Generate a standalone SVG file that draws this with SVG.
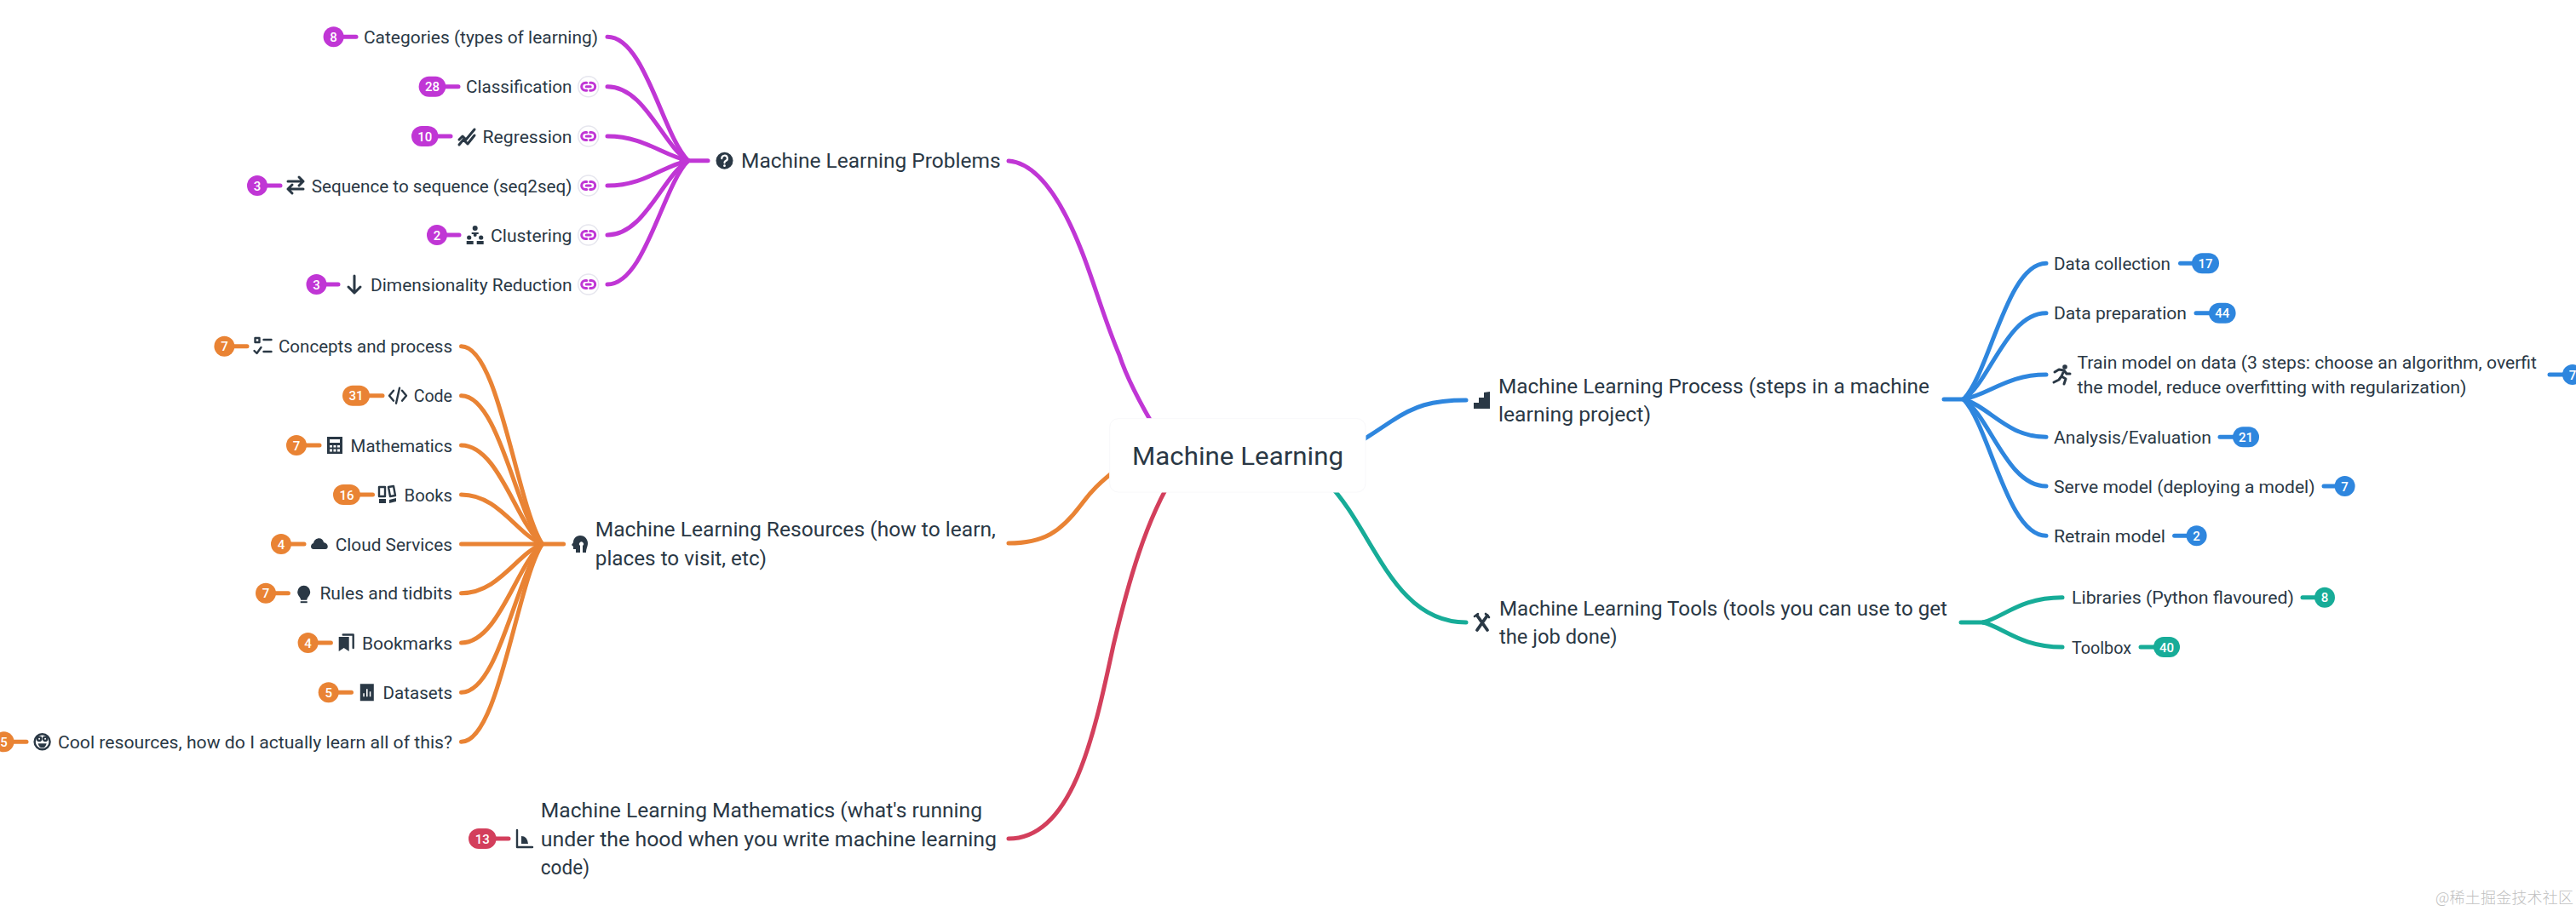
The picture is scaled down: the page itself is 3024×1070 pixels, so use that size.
<svg xmlns="http://www.w3.org/2000/svg" width="3024" height="1070" viewBox="0 0 3024 1070">
<style>
text{font-family:"Roboto","Liberation Sans",sans-serif;fill:#2a3845}
.t{font-size:21px}
.p{font-size:24px}
.r{font-size:30px}
.n{font-size:15px;fill:#fff;font-weight:500;text-anchor:middle}
.wm{font-family:"Noto Sans CJK SC",sans-serif;font-size:18px;fill:#bfbfbf;font-weight:300}
.c path{fill:none;stroke-linecap:round;stroke-width:5}
.pu path{stroke:#c036d5}.or path{stroke:#e98334}.bl path{stroke:#2e86de}.te path{stroke:#17ac98}.re path{stroke:#d33f5c}
.bpu{fill:#c036d5}.bor{fill:#e98334}.bbl{fill:#2e86de}.bte{fill:#17ac98}.bre{fill:#d33f5c}
.ic{fill:#2a3845;stroke:none}
.il{fill:none;stroke:#2a3845;stroke-width:2.4;stroke-linecap:round;stroke-linejoin:round}
.i3{stroke-width:3}
.lk{fill:#fff;stroke:#e6e6ee;stroke-width:1.5}
.lc{fill:none;stroke:#c036d5;stroke-width:3;stroke-linecap:round}
</style>
<defs>
<g id="link"><circle class="lk" r="12"/><path class="lc" d="M-2,-4.5 H-3.5 A4.5,4.5 0 0 0 -3.5,4.5 H-2 M2,-4.5 H3.5 A4.5,4.5 0 0 1 3.5,4.5 H2 M-2.5,0 H2.5"/></g>
<g id="i-q"><circle class="ic" r="10"/><path d="M-3.2,-2.6 A3.3,3.3 0 1 1 1.2,0.4 Q0,1 0,2.6" fill="none" stroke="#fff" stroke-width="2.2" stroke-linecap="round"/><circle r="1.4" cy="6" fill="#fff"/></g>
<g id="i-reg"><path class="il i3" d="M-9,4 L-5,0 L-1,4 L9,-8 M-9,10 L-4,4 L1,9 L9,-1"/></g>
<g id="i-seq"><path class="il i3" d="M-9,-4 H9 M4,-9 L9,-4 L4,1 M9,5 H-9 M-4,0 L-9,5 L-4,10"/></g>
<g id="i-clu"><circle class="ic" cy="-8" r="3"/><circle class="ic" cx="-7" cy="3" r="2.6"/><circle class="ic" cx="7" cy="3" r="2.6"/><circle class="ic" cy="0" r="2"/><rect class="ic" x="-10" y="7" width="8" height="4"/><rect class="ic" x="2" y="7" width="8" height="4"/><rect class="ic" x="-4" y="-3" width="8" height="2"/></g>
<g id="i-down"><path class="il i3" d="M0,-10 V10 M-7,3 L0,10 L7,3"/></g>
<g id="i-chk"><path class="il" d="M-9,-9 h5 v5 h-5 z M-10,6 L-7,9 L-2,2 M1,-7 H10 M1,7 H10"/></g>
<g id="i-code"><path class="il" d="M-5,-6 L-10,0 L-5,6 M5,-6 L10,0 L5,6 M2,-9 L-2,9"/></g>
<g id="i-calc"><path class="ic" fill-rule="evenodd" d="M-9,-10 H9 V10 H-9 Z M-6,-7 V-3 H6 V-7 Z M-6,0 V2.5 H-3 V0 Z M-1.5,0 V2.5 H1.5 V0 Z M3,0 V2.5 H6 V0 Z M-6,4.5 V7.5 H-3 V4.5 Z M-1.5,4.5 V7.5 H1.5 V4.5 Z M3,4.5 V7.5 H6 V4.5 Z"/></g>
<g id="i-book"><path class="il" d="M-10,-9 H-3 V2 H-10 Z M1,-9 L7,-10 L9,1 L3,2 Z"/><rect class="ic" x="-10" y="5" width="8" height="5"/><path class="ic" d="M2,6 L10,4 L10,8 L2,10 Z"/></g>
<g id="i-cloud"><path class="ic" d="M-7,7 C-11,7 -11,1 -7,0 C-6,-7 4,-8 5,-1 C11,0 11,7 7,7 Z"/></g>
<g id="i-bulb"><path class="ic" d="M0,-9 A7.5,7.5 0 0 1 7.5,-1.5 C7.5,3 4,4 3.5,8 H-3.5 C-4,4 -7.5,3 -7.5,-1.5 A7.5,7.5 0 0 1 0,-9 Z"/><rect class="ic" x="-4" y="9.5" width="8" height="2"/></g>
<g id="i-bm"><path class="ic" d="M-9,-7 H3 V10 L-3,6 L-9,10 Z"/><path class="il" d="M-4,-9.5 H8 V6"/></g>
<g id="i-data"><path class="ic" fill-rule="evenodd" d="M-8,-10 H8 V10 H-8 Z M-4.5,1 V5 H-3 V1 Z M-.8,-4 V5 H.8 V-4 Z M3,-1 V5 H4.5 V-1 Z"/></g>
<g id="i-face"><circle class="il" r="9"/><circle class="il" cx="-3.5" cy="-3.5" r="2.2"/><circle class="il" cx="3.5" cy="-3.5" r="2.2"/><path class="ic" d="M-5,2 H5 Q4,7 0,7 Q-4,7 -5,2 Z"/></g>
<g id="i-ang"><path class="il" d="M-8,-10 V10 H10"/><path class="ic" d="M-3,-3 Q4,-3 5,6 H-3 Z"/></g>
<g id="i-steps"><path class="ic" d="M-10,10 V3 H-4 V-3 H2 V-9 L9,-10 V10 Z"/></g>
<g id="i-head"><path class="ic" fill-rule="evenodd" d="M0,-10 C6,-10 9,-5 9,-1 C9,3 7,5 7,10 H3 V2 A2.5,2.5 0 1 0 0,2 V10 H-5 V6 H-8 V3 L-10,1 L-8,-2 C-8,-6 -5,-10 0,-10 Z"/></g>
<g id="i-tools"><path class="il" style="stroke-width:3.8" d="M-6,-8 L6,9 M6,-8 L-6,9"/><path class="il" style="stroke-width:2.6" d="M-9,-7 L-5,-10 M4,-10 L8,-6"/></g>
<g id="i-run"><circle class="ic" cx="4" cy="-9" r="2.8"/><path class="il i3" d="M-8,-3 L-3,-6 L3,-5 L0,2 L5,5 L3,11 M0,2 L-3,6 L-9,9 M3,-5 L6,-1 L10,-1"/></g>
</defs>

<g id="connectors" class="c">
<g class="pu">
<path d="M1184,189 C1222,192 1250,245 1269,293 C1284,330 1296,375 1314,417 C1322,442 1336,470 1360,510"/>
<path d="M713,43.3 C757,43.3 778,159.6 808,188.7"/>
<path d="M713,101.7 C757,101.7 778,171.3 808,188.7"/>
<path d="M713,160 C757,160 778,183 808,188.7"/>
<path d="M713,218 C757,218 778,194.6 808,188.7"/>
<path d="M713,276 C757,276 778,206 808,188.7"/>
<path d="M713,334 C757,334 778,217.8 808,188.7"/>
<path d="M800,188.7 H831"/>
<path d="M392,43.3 H418"/><path d="M510,101.7 H538"/><path d="M500,160 H529"/><path d="M302,218 H329"/><path d="M513,276 H539"/><path d="M372,334 H397"/>
</g>
<g class="or">
<path d="M1184,638 C1225,638 1245,625 1269,593 C1280,578 1290,567 1315,548"/>
<path d="M541.5,406.7 C585.5,406.7 606.5,592.6 636.5,639"/>
<path d="M541.5,464.7 C585.5,464.7 606.5,604.2 636.5,639"/>
<path d="M541.5,523 C585.5,523 606.5,615.8 636.5,639"/>
<path d="M541.5,581 C585.5,581 606.5,627.4 636.5,639"/>
<path d="M541.5,639 H661.6"/>
<path d="M541.5,696.7 C585.5,696.7 606.5,650.5 636.5,639"/>
<path d="M541.5,755 C585.5,755 606.5,662.2 636.5,639"/>
<path d="M541.5,813.3 C585.5,813.3 606.5,673.9 636.5,639"/>
<path d="M541.5,871.3 C585.5,871.3 606.5,685.5 636.5,639"/>
<path d="M263,406.7 H290"/><path d="M418,464.7 H449"/><path d="M348,523 H375"/><path d="M407,581 H437.5"/><path d="M330,639 H357"/><path d="M312,696.7 H338.4"/><path d="M362,755 H388.4"/><path d="M386,813.3 H412.5"/><path d="M5,871.3 H31"/>
</g>
<g class="re">
<path d="M1184,985 C1260,985 1285,860 1307,758 C1324,686 1345,610 1380,555"/>
<path d="M566,985 H597"/>
</g>
<g class="bl">
<path d="M1721,470 C1680,470 1660,477 1633,495 C1615,507 1600,517 1585,526"/>
<path d="M2402,309.3 C2356,309.3 2336,437 2305,469"/>
<path d="M2402,367.7 C2356,367.7 2336,449 2305,469"/>
<path d="M2402,440 C2356,440 2336,463 2305,469"/>
<path d="M2402,513.3 C2356,513.3 2336,478 2305,469"/>
<path d="M2402,571 C2356,571 2336,489 2305,469"/>
<path d="M2402,629.3 C2356,629.3 2336,501 2305,469"/>
<path d="M2282,469 H2310"/>
<path d="M2559.5,309.3 H2589"/><path d="M2578,367.7 H2609"/><path d="M2993,440 H3020"/><path d="M2606,513.3 H2636"/><path d="M2728,571 H2752"/><path d="M2552.6,629.3 H2578"/>
</g>
<g class="te">
<path d="M1721,731 C1605,731 1605,536 1489,536"/>
<path d="M2421,701.7 C2372,701.7 2352,725 2328,731"/>
<path d="M2421,760 C2372,760 2352,737 2328,731"/>
<path d="M2302,731 H2332"/>
<path d="M2703,701.7 H2729"/><path d="M2513,760 H2543"/>
</g>
</g>

<g id="root"><rect x="1302.7" y="491.7" width="300.3" height="86.3" rx="10" fill="#fff" stroke="#f8f8fa" stroke-width="1"/><text class="r" x="1329" y="546" textLength="248" lengthAdjust="spacingAndGlyphs">Machine Learning</text></g>

<g id="problems"><use href="#i-q" x="850.5" y="188.7"/><text class="p" x="870" y="197.3" textLength="304.6" lengthAdjust="spacingAndGlyphs">Machine Learning Problems</text></g>
<g id="categories"><circle class="bpu" cx="391.6" cy="43.3" r="12"/><text class="n" x="391.6" y="48.8">8</text><text class="t" x="427" y="51" textLength="275" lengthAdjust="spacingAndGlyphs">Categories (types of learning)</text></g>
<g id="classification"><rect class="bpu" x="491.6" y="89.7" width="31.7" height="24" rx="12"/><text class="n" x="507.5" y="107.2">28</text><text class="t" x="547" y="109.4" textLength="124.5" lengthAdjust="spacingAndGlyphs">Classification</text><use href="#link" x="690.7" y="101.7"/></g>
<g id="regression"><rect class="bpu" x="483" y="148" width="31.5" height="24" rx="12"/><text class="n" x="498.7" y="165.5">10</text><use href="#i-reg" x="548" y="160"/><text class="t" x="566.6" y="167.7" textLength="104.9" lengthAdjust="spacingAndGlyphs">Regression</text><use href="#link" x="690.7" y="160"/></g>
<g id="seq2seq"><circle class="bpu" cx="302" cy="218" r="12"/><text class="n" x="302" y="223.5">3</text><use href="#i-seq" x="347" y="217"/><text class="t" x="365.7" y="225.7" textLength="305.8" lengthAdjust="spacingAndGlyphs">Sequence to sequence (seq2seq)</text><use href="#link" x="690.7" y="218"/></g>
<g id="clustering"><circle class="bpu" cx="513" cy="276" r="12"/><text class="n" x="513" y="281.5">2</text><use href="#i-clu" x="557.7" y="276"/><text class="t" x="576" y="283.7" textLength="95.5" lengthAdjust="spacingAndGlyphs">Clustering</text><use href="#link" x="690.7" y="276"/></g>
<g id="dimensionality"><circle class="bpu" cx="371.5" cy="334" r="12"/><text class="n" x="371.5" y="339.5">3</text><use href="#i-down" x="416" y="334"/><text class="t" x="435" y="341.7" textLength="236.5" lengthAdjust="spacingAndGlyphs">Dimensionality Reduction</text><use href="#link" x="690.7" y="334"/></g>

<g id="resources"><use href="#i-head" x="681" y="639"/><text class="p" x="698.75" y="630" textLength="470.2" lengthAdjust="spacingAndGlyphs">Machine Learning Resources (how to learn,</text><text class="p" x="698.75" y="663.5" textLength="201.3" lengthAdjust="spacingAndGlyphs">places to visit, etc)</text></g>
<g id="concepts"><circle class="bor" cx="263.4" cy="406.7" r="12"/><text class="n" x="263.4" y="412.2">7</text><use href="#i-chk" x="308.5" y="406"/><text class="t" x="327" y="414.4" textLength="204" lengthAdjust="spacingAndGlyphs">Concepts and process</text></g>
<g id="code"><rect class="bor" x="402" y="452.7" width="32" height="24" rx="12"/><text class="n" x="418" y="470.2">31</text><use href="#i-code" x="467" y="464.7"/><text class="t" x="485.7" y="472.4" textLength="45.3" lengthAdjust="spacingAndGlyphs">Code</text></g>
<g id="mathematics"><circle class="bor" cx="348" cy="523" r="12"/><text class="n" x="348" y="528.5">7</text><use href="#i-calc" x="393" y="523"/><text class="t" x="411.6" y="530.7" textLength="119.4" lengthAdjust="spacingAndGlyphs">Mathematics</text></g>
<g id="books"><rect class="bor" x="391" y="569" width="32" height="24" rx="12"/><text class="n" x="407" y="586.5">16</text><use href="#i-book" x="455" y="581"/><text class="t" x="474.5" y="588.7" textLength="56.5" lengthAdjust="spacingAndGlyphs">Books</text></g>
<g id="cloud"><circle class="bor" cx="330" cy="639" r="12"/><text class="n" x="330" y="644.5">4</text><use href="#i-cloud" x="375" y="638"/><text class="t" x="393.75" y="646.7" textLength="137.25" lengthAdjust="spacingAndGlyphs">Cloud Services</text></g>
<g id="rules"><circle class="bor" cx="312" cy="696.7" r="12"/><text class="n" x="312" y="702.2">7</text><use href="#i-bulb" x="356.7" y="696.7"/><text class="t" x="375.4" y="704.4" textLength="155.6" lengthAdjust="spacingAndGlyphs">Rules and tidbits</text></g>
<g id="bookmarks"><circle class="bor" cx="361.6" cy="755" r="12"/><text class="n" x="361.6" y="760.5">4</text><use href="#i-bm" x="406.7" y="755"/><text class="t" x="425" y="762.7" textLength="106" lengthAdjust="spacingAndGlyphs">Bookmarks</text></g>
<g id="datasets"><circle class="bor" cx="385.7" cy="813.3" r="12"/><text class="n" x="385.7" y="818.8">5</text><use href="#i-data" x="430.8" y="813.3"/><text class="t" x="449.6" y="821" textLength="81.4" lengthAdjust="spacingAndGlyphs">Datasets</text></g>
<g id="cool"><circle class="bor" cx="4.5" cy="871.3" r="12"/><text class="n" x="4.5" y="876.8">5</text><use href="#i-face" x="49.6" y="871.3"/><text class="t" x="68" y="879" textLength="463" lengthAdjust="spacingAndGlyphs">Cool resources, how do I actually learn all of this?</text></g>

<g id="mathnode"><rect class="bre" x="550" y="973" width="32.6" height="24" rx="12"/><text class="n" x="566.3" y="990.5">13</text><use href="#i-ang" x="615" y="985"/><text class="p" x="634.8" y="960" textLength="518.2" lengthAdjust="spacingAndGlyphs">Machine Learning Mathematics (what's running</text><text class="p" x="634.8" y="993.5" textLength="535.2" lengthAdjust="spacingAndGlyphs">under the hood when you write machine learning</text><text class="p" x="634.8" y="1027" textLength="57.2" lengthAdjust="spacingAndGlyphs">code)</text></g>

<g id="process"><use href="#i-steps" x="1740" y="470"/><text class="p" x="1759" y="461.5" textLength="506" lengthAdjust="spacingAndGlyphs">Machine Learning Process (steps in a machine</text><text class="p" x="1759" y="495" textLength="179" lengthAdjust="spacingAndGlyphs">learning project)</text></g>
<g id="collection"><text class="t" x="2411" y="317" textLength="137" lengthAdjust="spacingAndGlyphs">Data collection</text><rect class="bbl" x="2573" y="297.3" width="32" height="24" rx="12"/><text class="n" x="2589" y="314.8">17</text></g>
<g id="preparation"><text class="t" x="2411" y="375.4" textLength="156" lengthAdjust="spacingAndGlyphs">Data preparation</text><rect class="bbl" x="2593" y="355.7" width="31.6" height="24" rx="12"/><text class="n" x="2608.8" y="373.2">44</text></g>
<g id="train"><use href="#i-run" x="2420" y="440"/><text class="t" x="2438.5" y="433" textLength="539.5" lengthAdjust="spacingAndGlyphs">Train model on data (3 steps: choose an algorithm, overfit</text><text class="t" x="2438.5" y="462" textLength="457" lengthAdjust="spacingAndGlyphs">the model, reduce overfitting with regularization)</text><circle class="bbl" cx="3020" cy="440" r="12"/><text class="n" x="3020" y="445.5">7</text></g>
<g id="analysis"><text class="t" x="2411" y="521" textLength="185" lengthAdjust="spacingAndGlyphs">Analysis/Evaluation</text><rect class="bbl" x="2621" y="501.3" width="31" height="24" rx="12"/><text class="n" x="2636.5" y="518.8">21</text></g>
<g id="serve"><text class="t" x="2411" y="578.7" textLength="306.5" lengthAdjust="spacingAndGlyphs">Serve model (deploying a model)</text><circle class="bbl" cx="2752.6" cy="571" r="12"/><text class="n" x="2752.6" y="576.5">7</text></g>
<g id="retrain"><text class="t" x="2411" y="637" textLength="131" lengthAdjust="spacingAndGlyphs">Retrain model</text><circle class="bbl" cx="2578.6" cy="629.3" r="12"/><text class="n" x="2578.6" y="634.8">2</text></g>

<g id="tools"><use href="#i-tools" x="1740" y="731"/><text class="p" x="1760" y="722.5" textLength="526" lengthAdjust="spacingAndGlyphs">Machine Learning Tools (tools you can use to get</text><text class="p" x="1760" y="756" textLength="138.6" lengthAdjust="spacingAndGlyphs">the job done)</text></g>
<g id="libraries"><text class="t" x="2432" y="709.4" textLength="261" lengthAdjust="spacingAndGlyphs">Libraries (Python flavoured)</text><circle class="bte" cx="2729" cy="701.7" r="12"/><text class="n" x="2729" y="707.2">8</text></g>
<g id="toolbox"><text class="t" x="2432" y="767.7" textLength="70" lengthAdjust="spacingAndGlyphs">Toolbox</text><rect class="bte" x="2528" y="748" width="31" height="24" rx="12"/><text class="n" x="2543.5" y="765.5">40</text></g>

<text class="wm" x="2859" y="1061" textLength="162">@稀土掘金技术社区</text>
</svg>
